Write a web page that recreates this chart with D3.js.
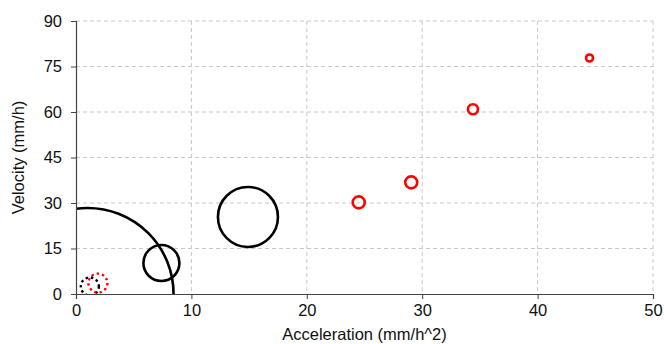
<!DOCTYPE html>
<html>
<head>
<meta charset="utf-8">
<script src="https://cdn.jsdelivr.net/npm/d3@7"></script>
<style>
  body { margin: 0; background: #fff; }
  text { font-family: "Liberation Sans", Arial, sans-serif; fill: #111; }
</style>
</head>
<body>
<svg id="chart" width="664" height="344"></svg>
<script>
// data
var xTicks = [0, 10, 20, 30, 40, 50];
var yTicks = [0, 15, 30, 45, 60, 75, 90];

// black bubbles (solid)
var blackX = [1.0, 7.4, 14.9];
var blackY = [0, 10.2, 25.4];
var blackR = [86, 18, 30];

// red bubbles (solid)
var redX = [24.5, 29.05, 34.4, 44.5];
var redY = [30.2, 36.8, 60.9, 77.8];
var redR = [6, 6, 5, 3.5];

// dotted bubbles
var dotX = [1.2, 1.9];
var dotY = [2.5, 3.6];
var dotR = [9, 9.5];
var dotColor = ['#000', '#f00'];

var margin = {top: 21, right: 11, bottom: 50, left: 76};
var width = 664 - margin.left - margin.right,
    height = 344 - margin.top - margin.bottom;

var svg = d3.select('#chart');
var g = svg.append('g')
    .attr('transform', 'translate(' + margin.left + ',' + margin.top + ')');

var x = d3.scaleLinear().domain([0, 50]).range([0, width]);
var y = d3.scaleLinear().domain([0, 90]).range([height, 0]);

svg.append('defs').append('clipPath')
    .attr('id', 'plot')
  .append('rect')
    .attr('x', 0).attr('y', 0)
    .attr('width', width).attr('height', height);

// grid
g.selectAll('.vgrid')
    .data(xTicks.slice(1))
  .enter().append('line')
    .attr('x1', function(d) { return x(d); })
    .attr('x2', function(d) { return x(d); })
    .attr('y1', 0).attr('y2', height)
    .attr('stroke', '#c8c8c8')
    .attr('stroke-dasharray', '4,3');

g.selectAll('.hgrid')
    .data(yTicks.slice(1))
  .enter().append('line')
    .attr('x1', 0).attr('x2', width)
    .attr('y1', function(d) { return y(d); })
    .attr('y2', function(d) { return y(d); })
    .attr('stroke', '#c8c8c8')
    .attr('stroke-dasharray', '4,3');

var marks = g.append('g').attr('clip-path', 'url(#plot)');

var toRows = function(xs, ys, rs) {
  return xs.map(function(v, i) { return {x: v, y: ys[i], r: rs[i], i: i}; });
};

marks.selectAll('.black')
    .data(toRows(blackX, blackY, blackR))
  .enter().append('circle')
    .attr('cx', function(d) { return x(d.x); })
    .attr('cy', function(d) { return y(d.y); })
    .attr('r', function(d) { return d.r; })
    .attr('fill', 'none')
    .attr('stroke', '#000')
    .attr('stroke-width', 2.6);

marks.selectAll('.red')
    .data(toRows(redX, redY, redR))
  .enter().append('circle')
    .attr('cx', function(d) { return x(d.x); })
    .attr('cy', function(d) { return y(d.y); })
    .attr('r', function(d) { return d.r; })
    .attr('fill', 'none')
    .attr('stroke', '#f00')
    .attr('stroke-width', 2.6);

marks.selectAll('.dot')
    .data(toRows(dotX, dotY, dotR))
  .enter().append('circle')
    .attr('cx', function(d) { return x(d.x); })
    .attr('cy', function(d) { return y(d.y); })
    .attr('r', function(d) { return d.r; })
    .attr('fill', 'none')
    .attr('stroke', function(d) { return dotColor[d.i]; })
    .attr('stroke-width', 2.4)
    .attr('stroke-dasharray', '2.4,3');

// axes
var xAxis = g.append('g')
    .attr('transform', 'translate(0,' + height + ')')
    .call(d3.axisBottom(x).tickValues(xTicks).tickSize(5).tickPadding(5));
var yAxis = g.append('g')
    .call(d3.axisLeft(y).tickValues(yTicks).tickSize(5).tickPadding(9));

[xAxis, yAxis].forEach(function(a) {
  a.select('.domain').attr('stroke', '#444').attr('stroke-width', 1.2);
  a.selectAll('.tick line').attr('stroke', '#444');
  a.selectAll('.tick text')
    .attr('font-size', 16.5)
    .style('font-family', '"Liberation Sans", Arial, sans-serif')
    .attr('fill', '#111');
});

svg.append('text')
    .attr('x', margin.left + width / 2)
    .attr('y', 340)
    .attr('text-anchor', 'middle')
    .attr('font-size', 16.5)
    .text('Acceleration (mm/h^2)');

svg.append('text')
    .attr('transform', 'translate(24,' + (margin.top + height / 2) + ') rotate(-90)')
    .attr('text-anchor', 'middle')
    .attr('font-size', 16.5)
    .text('Velocity (mm/h)');
</script>
</body>
</html>
